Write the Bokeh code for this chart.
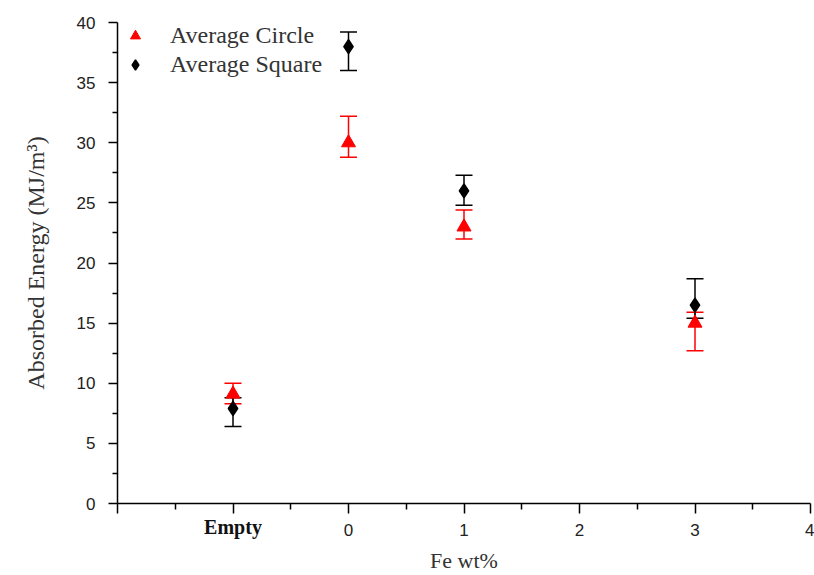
from bokeh.plotting import figure
from bokeh.models import (ColumnDataSource, Whisker, TeeHead, FixedTicker, Range1d,
                          Legend, LegendItem, LinearAxis)
from bokeh.embed import file_html
from bokeh.resources import INLINE

# ---- data ----
x_pos = [-1, 0, 1, 3]           # -1 stands for "Empty"
circle_y = [9.1, 30.0, 23.0, 15.0]
circle_upper = [10.0, 32.2, 24.4, 15.9]
circle_lower = [8.3, 28.8, 22.0, 12.7]

square_y = [7.9, 38.0, 26.0, 16.5]
square_upper = [8.8, 39.2, 27.3, 18.7]
square_lower = [6.4, 36.0, 24.8, 15.4]

x_ticks = [-2, -1, 0, 1, 2, 3, 4]
x_minor = [-1.5, -0.5, 0.5, 1.5, 2.5, 3.5]
y_ticks = [0, 5, 10, 15, 20, 25, 30, 35, 40]
y_minor = [2.5, 7.5, 12.5, 17.5, 22.5, 27.5, 32.5, 37.5]
empty_label = "Empty"

SERIF = "Liberation Serif"
SANS = "Liberation Sans"

p = figure(width=814, height=575, output_backend="svg", toolbar_location=None,
           x_range=Range1d(-2, 4), y_range=Range1d(0, 40),
           min_border_left=117, min_border_right=4, min_border_top=22,
           min_border_bottom=72)
p.outline_line_color = None
p.xgrid.grid_line_color = None
p.ygrid.grid_line_color = None
p.background_fill_color = "white"

src_c = ColumnDataSource(dict(x=x_pos, y=circle_y, upper=circle_upper, lower=circle_lower))
src_s = ColumnDataSource(dict(x=x_pos, y=square_y, upper=square_upper, lower=square_lower))

wc = Whisker(base="x", upper="upper", lower="lower", source=src_c,
             line_color="#ff0000", line_width=1.5,
             upper_head=TeeHead(size=17, line_color="#ff0000", line_width=1.5),
             lower_head=TeeHead(size=17, line_color="#ff0000", line_width=1.5))
ws = Whisker(base="x", upper="upper", lower="lower", source=src_s,
             line_color="black", line_width=1.5,
             upper_head=TeeHead(size=17, line_color="black", line_width=1.5),
             lower_head=TeeHead(size=17, line_color="black", line_width=1.5))
p.add_layout(wc)
p.add_layout(ws)

rc = p.scatter("x", "y", source=src_c, marker="triangle", size=14,
               fill_color="#ff0000", line_color="#ff0000")
rs = p.scatter("x", "y", source=src_s, marker="diamond", size=14, line_width=1.5,
               fill_color="black", line_color="black")

legend = Legend(items=[LegendItem(label="Average Circle", renderers=[rc]),
                       LegendItem(label="Average Square", renderers=[rs])],
                location="top_left", padding=0, margin=0, spacing=2,
                glyph_width=36, glyph_height=25, label_height=25,
                label_standoff=17, background_fill_alpha=0,
                border_line_color=None,
                label_text_font=SERIF, label_text_font_size="24px",
                label_text_color="#333333")
p.add_layout(legend)

# main x axis: ticks and numeric labels
xa = p.xaxis[0]
xa.ticker = FixedTicker(ticks=x_ticks, minor_ticks=x_minor)
xa.major_label_overrides = {-2: "", -1: ""}
xa.major_label_text_font = SANS
xa.major_label_text_font_size = "17px"
xa.major_label_text_color = "#222222"
xa.major_label_standoff = 10
xa.axis_line_width = 1.5
xa.major_tick_line_width = 1.5
xa.minor_tick_line_width = 1.5
xa.major_tick_out = 10
xa.major_tick_in = 0
xa.minor_tick_out = 6
xa.minor_tick_in = 0

# second x axis: carries the bold serif "Empty" label and the axis title
xb = LinearAxis(ticker=FixedTicker(ticks=[x_pos[0]], minor_ticks=[]),
                major_label_overrides={x_pos[0]: empty_label},
                axis_line_color=None, major_tick_line_color=None,
                minor_tick_line_color=None, major_tick_out=0, major_tick_in=0,
                major_label_standoff=-23,
                major_label_text_font=SERIF, major_label_text_font_style="bold",
                major_label_text_font_size="20px", major_label_text_color="#111111",
                axis_label="Fe wt%", axis_label_text_font=SERIF,
                axis_label_text_font_style="normal", axis_label_text_font_size="22px",
                axis_label_text_color="#333333", axis_label_standoff=7)
p.add_layout(xb, "below")

ya = p.yaxis[0]
ya.ticker = FixedTicker(ticks=y_ticks, minor_ticks=y_minor)
ya.axis_label = "Absorbed Energy (MJ/m³)"
ya.axis_label_text_font = SERIF
ya.axis_label_text_font_style = "normal"
ya.axis_label_text_font_size = "24px"
ya.axis_label_text_color = "#333333"
ya.axis_label_standoff = 25
ya.major_label_text_font = SANS
ya.major_label_text_font_size = "17px"
ya.major_label_text_color = "#222222"
ya.major_label_standoff = 13
ya.axis_line_width = 1.5
ya.major_tick_line_width = 1.5
ya.minor_tick_line_width = 1.5
ya.major_tick_out = 9
ya.major_tick_in = 0
ya.minor_tick_out = 5
ya.minor_tick_in = 0

open("out.html", "w").write(file_html(p, INLINE))
